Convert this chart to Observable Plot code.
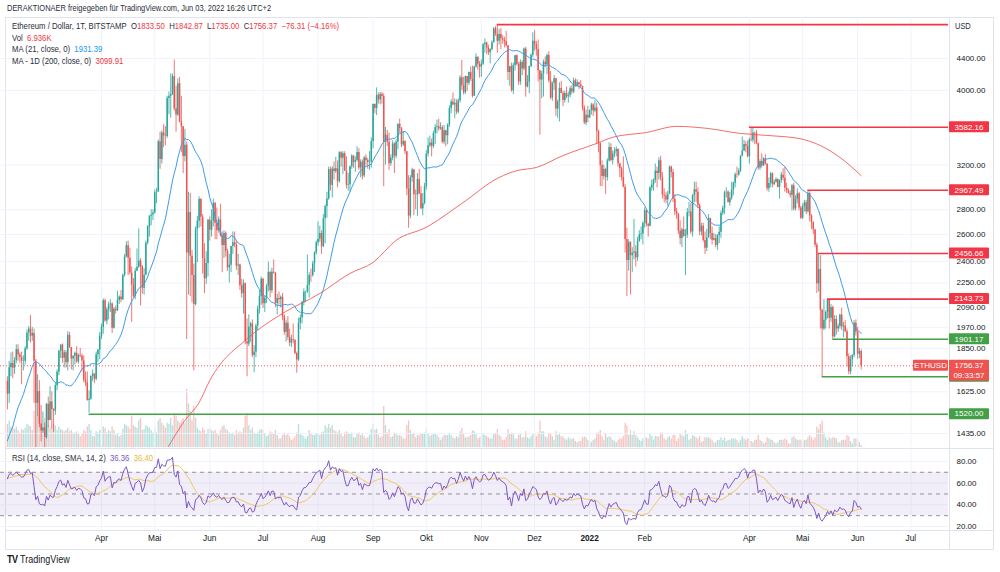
<!DOCTYPE html>
<html lang="de">
<head>
<meta charset="utf-8">
<script src="https://cdn.jsdelivr.net/npm/d3@7"></script>
<script src="https://cdn.jsdelivr.net/npm/@observablehq/plot@0.6"></script>
<style>
html,body{margin:0;padding:0;background:#fff;}
#wrap{position:relative;width:1000px;height:572px;overflow:hidden;font-family:"Liberation Sans",Arial,sans-serif;color:#131722;}
.txt{position:absolute;white-space:nowrap;font-size:8.3px;line-height:10px;color:#2a2e39;transform:scaleX(0.9);transform-origin:0 50%;}
.r{color:#f23645}.b{color:#2196f3}.p{color:#7e57c2}.y{color:#e8b93a}
.ln{position:absolute;background:#e0e3eb;}
.layer{position:absolute;left:0;}
.layer svg{overflow:visible;}
</style>
</head>
<body>
<div id="wrap">
  <div class="ln" style="left:5px;top:17px;width:988px;height:1px"></div>
  <div class="ln" style="left:5px;top:17px;width:1px;height:532px"></div>
  <div class="ln" style="left:993px;top:17px;width:1px;height:532px"></div>
  <div class="ln" style="left:5px;top:549px;width:989px;height:1px"></div>
  <div class="ln" style="left:949px;top:17px;width:1px;height:532px"></div>
  <div class="ln" style="left:5px;top:448px;width:988px;height:1px"></div>
  <div class="ln" style="left:5px;top:530px;width:988px;height:1px"></div>

  <div id="vol" class="layer" style="top:17px"></div>
  <div id="main" class="layer" style="top:17px"></div>
  <div id="rsi" class="layer" style="top:449px"></div>

  <div class="txt" style="left:7px;top:3px">DERAKTIONAER freigegeben für TradingView.com, Jun 03, 2022 16:26 UTC+2</div>
  <div class="txt" style="left:12px;top:21px;font-size:8.6px">Ethereum / Dollar, 1T, BITSTAMP&nbsp;&nbsp;O<span class="r">1833.50</span>&nbsp;&nbsp;H<span class="r">1842.87</span>&nbsp;&nbsp;L<span class="r">1735.00</span>&nbsp;&nbsp;C<span class="r">1756.37</span>&nbsp;&nbsp;<span class="r">−76.31 (−4.16%)</span></div>
  <div class="txt" style="left:12px;top:33px;font-size:8.6px">Vol&nbsp;&nbsp;<span class="r">6.936K</span></div>
  <div class="txt" style="left:12px;top:44px;font-size:8.6px">MA (21, close, 0)&nbsp;&nbsp;<span class="b">1931.39</span></div>
  <div class="txt" style="left:12px;top:56px;font-size:8.6px">MA - 1D (200, close, 0)&nbsp;&nbsp;<span class="r">3099.91</span></div>
  <div class="txt" style="left:955px;top:21px;font-size:8.3px">USD</div>
  <div class="txt" style="left:12px;top:453px;font-size:8.6px">RSI (14, close, SMA, 14, 2)&nbsp;&nbsp;<span class="p">36.36</span>&nbsp;&nbsp;<span class="y">36.40</span></div>
  <div class="txt" style="left:7px;top:554px;font-size:10px;line-height:12px;color:#131722"><b style="font-weight:900;letter-spacing:-0.5px">TV</b>&nbsp;TradingView</div>
</div>
<script>
// ---------- DATA (daily candles, Bitstamp ETH/USD) ----------
const firstDay = Date.UTC(2021, 1, 7);            // first visible candle: 7 Feb 2021
const viewStart = new Date(Date.UTC(2021, 1, 3, 2, 24));
const viewEnd   = new Date(Date.UTC(2022, 6, 22, 4, 19));
const DAY = 864e5;

// closes 1 Jan - 6 Feb 2021 (only used to seed MA21 / RSI)
const warmupCloses = [730,775,979,1042,1100,1208,1225,1224,1281,1262,1090,1043,1130,1218,1171,1233,1230,1257,1377,1383,1121,1236,1231,1392,1324,1357,1253,1332,1382,1377,1314,1370,1514,1660,1595,1718,1677];

const close = [
 1614,1746,1768,1744,1784,1843,1814,1800,1780,1781,1848,1938,1960,1919,1935,1781,1570,1626,1475,1446,1459,1417,
 1565,1492,1576,1541,1534,1655,1724,1835,1869,1796,1826,1772,1924,1855,1792,1807,1823,1777,1812,1807,1782,1682,1670,1584,1589,1701,1714,1687,1816,1840,1919,
 1970,2134,2008,2076,2107,2113,1965,2080,2071,2135,2158,2139,2300,2432,2515,2423,2317,2236,2162,2330,2358,2403,2363,2214,2303,2534,2661,2747,2756,2773,
 2945,2952,3431,3253,3522,3490,3485,3903,3929,3952,4168,3785,3716,4080,3640,3588,3283,3395,2460,2776,2437,2301,2109,2643,2706,2888,2737,2419,2279,2385,2714,
 2633,2706,2855,2689,2630,2716,2590,2517,2609,2472,2354,2372,2509,2537,2520,2366,2373,2231,2179,2245,1888,1875,1971,1990,1812,1830,1979,2081,2161,2275,
 2114,2150,2227,2322,2198,2323,2317,2116,2147,2139,2155,2035,1941,1995,1912,1880,1899,1895,1822,1787,1995,2027,2124,2188,2191,2234,2300,2299,2382,2462,2537,
 2563,2608,2507,2725,2828,2891,3157,3012,3163,3140,3164,3046,3320,3266,3309,3143,3012,3017,3183,3287,3226,3243,3322,3173,3228,3096,3268,3244,3225,3229,3434,
 3834,3790,3941,3887,3952,3928,3427,3498,3427,3212,3266,3408,3286,3429,3615,3570,3398,3433,3330,2978,2747,3078,3154,2929,2926,3064,2935,2808,2853,3001,
 3307,3391,3419,3382,3518,3581,3588,3563,3577,3425,3545,3493,3606,3787,3864,3830,3848,3748,3877,4155,4056,3972,4168,4087,4218,4132,3930,4288,4415,4325,4288,
 4324,4585,4607,4537,4476,4518,4611,4808,4732,4632,4725,4667,4648,4625,4570,4218,4294,3995,4310,4437,4322,4102,4348,4265,4525,4041,4096,4296,4444,4633,
 4589,4519,4243,4125,4200,4351,4318,4438,4113,3909,4086,4142,3783,3863,4022,3963,3881,3963,3924,3940,4018,3980,4116,4047,4093,4069,4044,3797,3628,3713,3683,
 3769,3829,3762,3794,3538,3411,3195,3092,3157,3083,3239,3372,3244,3308,3330,3351,3212,3164,3083,2995,2561,2406,2538,2441,2458,2467,2425,2549,2598,2605,2688,
 2792,2680,2666,2989,3014,3058,3142,3121,3242,3078,2927,2917,2883,2933,3180,3130,2890,2782,2762,2626,2570,2637,2586,2597,2775,2781,2620,2920,
 2972,2950,2834,2620,2665,2555,2495,2576,2728,2608,2556,2570,2517,2591,2617,2770,2813,2945,2950,2860,2897,2970,3031,3108,3106,3144,3285,3337,3403,3384,3281,
 3450,3445,3522,3520,3411,3171,3233,3190,3261,3210,2982,3029,3118,3018,3040,3064,2993,3055,3105,3076,2985,2964,2937,2923,3008,2807,2889,2936,2815,2730,
 2826,2858,2784,2939,2749,2695,2636,2518,2244,2342,2074,1961,2013,2060,2141,2024,2091,1915,2018,1960,1975,2043,1973,1978,1945,1804,1725,1790,1812,1995,1942,
 1818,1832.68,1756.37
];
const high = [
 1700,1780,1825,1830,1800,1870,1870,1825,1830,1810,1860,1955,1975,2040,1970,1960,1790,1710,1680,1560,1530,1480,
 1570,1600,1650,1625,1545,1670,1735,1840,1870,1875,1840,1840,1945,1940,1855,1810,1830,1860,1820,1850,1820,1810,1725,1725,1630,1705,1735,1715,1830,1845,1940,
 1990,2145,2145,2090,2125,2140,2120,2090,2100,2195,2165,2200,2310,2450,2545,2550,2495,2360,2280,2350,2490,2645,2420,2370,2350,2550,2670,2750,2800,2800,
 2970,2985,3450,3530,3545,3610,3590,3930,3980,4200,4200,4380,4050,4140,4160,3930,3590,3560,3430,2950,2940,2480,2380,2660,2745,2910,2895,2760,2530,2470,2720,
 2740,2800,2890,2860,2815,2740,2845,2620,2630,2620,2490,2450,2510,2620,2620,2550,2450,2380,2275,2270,2250,2020,2045,2000,2015,1865,1990,2100,2200,2290,
 2280,2160,2240,2395,2330,2350,2410,2320,2175,2190,2165,2180,2045,2010,2035,1960,1925,1990,1900,1830,2025,2045,2130,2210,2195,2445,2320,2345,2400,2470,2550,
 2700,2665,2630,2760,2840,2950,3180,3180,3185,3230,3275,3240,3330,3330,3330,3330,3280,3120,3190,3300,3290,3280,3380,3360,3250,3250,3285,3300,3265,3330,3470,
 3840,3840,4030,3970,3975,3975,3960,3580,3550,3520,3300,3440,3420,3450,3620,3670,3580,3540,3440,3330,3100,3100,3170,3160,2970,3120,3160,3000,2940,3030,
 3340,3470,3490,3460,3540,3610,3660,3670,3630,3600,3600,3550,3620,3820,3890,3970,3900,3890,3900,4180,4375,4160,4175,4170,4225,4290,4300,4300,4460,4420,4360,
 4380,4600,4665,4620,4580,4530,4640,4825,4840,4868,4800,4810,4710,4690,4770,4570,4300,4340,4340,4440,4450,4350,4380,4370,4540,4550,4180,4300,4460,4750,
 4780,4630,4650,4245,4235,4380,4420,4460,4490,4230,4100,4180,4150,3885,4090,4110,3990,3990,4040,3980,4045,4060,4150,4140,4130,4100,4120,4050,3820,3770,3815,
 3770,3850,3845,3880,3850,3550,3420,3240,3200,3170,3260,3420,3410,3340,3370,3380,3360,3215,3180,3280,3020,2650,2560,2545,2500,2720,2515,2580,2630,2660,2700,
 2815,2800,2690,3000,3060,3070,3210,3180,3270,3285,3130,2980,2950,2960,3190,3190,3160,2930,2810,2770,2710,2650,2740,2640,2810,2860,2850,2930,
 3040,3040,2990,2850,2690,2690,2620,2640,2760,2730,2660,2610,2600,2600,2660,2790,2830,2960,2990,2965,2950,3040,3040,3125,3180,3165,3290,3480,3445,3430,3440,
 3470,3582.16,3575,3530,3550,3415,3255,3310,3270,3300,3210,3080,3130,3125,3060,3080,3070,3060,3130,3165,3180,3030,2980,2960,3020,3030,2920,2980,2950,2830,
 2850,2880,2880,2967.49,2955,2760,2700,2640,2535,2456.66,2440,2080,2140,2070,2143.73,2141,2110,2100,2040,2040,1990,2050,2085,2000,2010,1960,1820,1810,1815,2010,2015,
 1970,1850,1842.87
];
const low = [
 1540,1570,1700,1690,1712,1767,1780,1770,1660,1730,1760,1840,1890,1880,1890,1570,1370,1510,1460,1400,1435,1295,
 1410,1460,1490,1455,1440,1515,1630,1705,1795,1770,1745,1745,1730,1850,1735,1730,1760,1770,1765,1800,1725,1670,1650,1580,1525,1585,1675,1665,1680,1775,1790,
 1900,1930,2000,1985,2015,2060,1935,1960,2050,2065,2110,2120,2135,2290,2425,2300,2305,2000,2150,2140,2330,2350,2100,2175,2170,2300,2520,2580,2670,2710,
 2765,2850,2950,3160,3210,3370,3390,3465,3720,3680,3940,3760,3530,3700,3630,3320,3120,3230,1900,2170,2160,2120,1730,2100,2390,2650,2660,2310,2180,2240,2290,
 2550,2580,2660,2560,2560,2610,2580,2320,2420,2430,2330,2250,2320,2450,2500,2335,2300,2200,2150,2050,1870,1700,1860,1885,1800,1720,1800,1950,2050,2105,
 2085,2060,2115,2190,2150,2180,2310,2090,2045,2105,2090,2010,1925,1885,1895,1860,1855,1875,1815,1718,1780,1955,1990,2100,2120,2180,2150,2255,2290,2320,2445,
 2510,2540,2450,2500,2530,2730,2880,2960,2900,3060,3120,2990,3030,3180,3110,3140,2980,2960,2950,3160,3170,3130,3230,3150,3080,3060,3080,3190,3160,3150,3170,
 3360,3730,3710,3840,3830,3840,3000,3200,3380,3150,3190,3240,3120,3260,3350,3520,3370,3380,3300,2920,2650,2725,3040,2750,2800,2745,2930,2800,2750,2840,
 2970,3280,3370,3280,3360,3400,3510,3540,3550,3410,3400,3380,3400,3580,3730,3820,3675,3720,3730,3850,4000,3945,3950,3990,4060,4110,3910,3930,4275,4250,4150,
 4160,4310,4470,4450,4440,4330,4500,4610,4700,4470,4580,4520,4590,4540,4550,4120,4050,3980,3950,4240,4300,4060,4060,4180,4240,3920,4030,3960,4280,4410,
 4500,4430,4100,3500,3900,3920,4280,4190,4090,3890,3870,4000,3700,3680,3640,3960,3810,3850,3900,3850,3910,3950,3960,4040,4040,4010,4030,3760,3610,3600,3630,
 3680,3715,3700,3740,3400,3320,3000,3000,3060,2930,3050,3230,3230,3200,3270,3280,3180,3080,3050,2990,2460,2160,2330,2170,2320,2410,2360,2400,2540,2560,2520,
 2650,2660,2580,2660,2960,2960,3030,2990,3060,3050,2890,2860,2850,2830,2930,3080,2860,2750,2720,2600,2520,2500,2580,2300,2570,2740,2600,2580,
 2860,2860,2810,2590,2590,2540,2450,2470,2570,2560,2520,2550,2500,2480,2530,2570,2750,2760,2900,2860,2830,2880,2920,2990,3075,3095,3130,3280,3330,3320,3270,
 3210,3430,3420,3400,3400,3150,3150,3170,3190,3200,2960,2950,2990,2990,3010,3030,2990,2890,3030,3050,2950,2940,2935,2900,2790,2790,2790,2850,2790,2720,
 2720,2780,2760,2770,2700,2640,2600,2500,2180,2190,1960,1700,1950,1960,2020,1960,2000,1901.17,1910,1925,1940,1960,1950,1910,1940,1750,1710,1710,1750,1800,1920,
 1790,1795,1735
];
// volume in thousand ETH
const volume = [
 95,110,85,80,75,85,70,55,75,70,80,95,90,85,70,150,190,130,140,100,80,120,
 110,90,85,80,95,90,70,85,75,70,65,70,80,65,70,60,60,65,55,45,55,70,65,85,95,70,45,45,65,60,70,
 70,85,80,60,70,65,85,70,50,55,45,50,75,95,90,85,75,130,90,85,80,110,120,70,75,90,85,80,70,60,
 80,60,110,120,100,90,80,100,95,120,90,140,130,110,100,110,120,100,240,180,150,110,170,120,80,70,65,80,70,55,75,
 80,70,65,70,55,50,70,85,90,75,70,60,55,60,50,70,60,65,60,80,130,140,90,70,80,60,55,60,70,75,
 70,55,45,50,65,60,55,70,50,35,35,50,60,50,55,45,30,35,45,60,95,55,50,45,35,45,70,55,50,50,55,
 55,50,60,65,90,80,95,80,90,70,65,60,70,55,45,60,65,60,55,60,40,40,55,60,50,55,45,35,40,50,75,
 95,70,75,50,40,45,170,90,60,75,40,45,60,55,50,50,45,35,35,90,110,70,55,60,40,50,50,55,55,60,
 80,55,45,50,55,55,50,40,30,40,50,50,50,55,50,40,35,45,40,65,80,55,40,40,45,50,70,65,55,35,40,
 45,55,50,45,40,35,35,55,55,75,50,45,30,30,40,75,55,60,55,35,35,50,55,40,40,65,40,35,45,55,
 55,45,60,110,65,65,45,40,55,55,45,30,65,50,60,45,45,35,30,40,35,35,35,25,20,25,25,40,45,40,30,
 25,20,30,35,60,60,70,45,30,55,40,45,40,30,25,20,30,35,35,45,100,90,50,70,50,65,50,40,30,25,35,
 40,40,35,55,45,30,45,45,45,60,60,35,30,40,45,35,50,50,25,35,55,50,45,70,55,30,35,50,
 45,40,35,45,20,25,40,40,40,35,30,20,20,30,30,40,30,40,25,30,30,35,35,35,30,20,30,45,35,30,35,
 35,25,20,30,30,50,30,25,15,20,40,35,30,30,20,15,20,30,30,30,35,30,15,15,40,45,35,30,30,30,
 20,30,30,40,50,40,30,40,85,75,95,110,60,40,30,40,35,40,40,35,20,20,30,30,30,50,45,25,15,35,35,
 30,20,6.936
];

// 1D MA(200)
const ma200Dates = ["2021-05-08","2021-05-18","2021-05-26","2021-06-01","2021-06-23","2021-07-12","2021-08-02","2021-08-19","2021-09-01","2021-09-14","2021-10-01","2021-10-21","2021-11-11","2021-11-21","2021-12-02","2021-12-17","2022-01-05","2022-01-14","2022-02-02","2022-02-19","2022-03-08","2022-03-27","2022-04-11","2022-04-29","2022-05-11","2022-05-22","2022-06-03"];
const ma200Values = [1372,1492,1574,1681,1912,2054,2180,2315,2392,2556,2657,2853,3083,3147,3177,3292,3414,3477,3527,3592,3571,3517,3496,3464,3392,3274,3100];

// horizontal drawings (value, start date, colour kind)
const levelValues = [4868, 3582.16, 2967.49, 2456.66, 2143.73, 1901.17, 1700.00, 1520.00];
const levelStarts = ["2021-11-10","2022-04-01","2022-05-04","2022-05-10","2022-05-15","2022-05-18","2022-05-12","2021-03-25"];
const levelKinds  = ["res","res","res","res","res","sup","sup","sup"];
const levelTagged = [false,true,true,true,true,true,true,true];

const priceTicks = [4400,4000,3200,2800,2600,2400,2250,2090,1970,1850,1625,1435];
const rsiTicks = [80,60,40,20];
const rsiLevels = [70,50,30];
const rsiBand = [30,70];
const timeTickDates = ["2021-04-01","2021-05-01","2021-06-01","2021-07-01","2021-08-01","2021-09-01","2021-10-01","2021-11-01","2021-12-01","2022-01-01","2022-02-01","2022-04-01","2022-05-01","2022-06-01","2022-07-01"];
const timeTickLabels = ["Apr","Mai","Jun","Jul","Aug","Sep","Okt","Nov","Dez","2022","Feb","Apr","Mai","Jun","Jul"];

// ---------- derived tables ----------
const UP = "#26a69a", DOWN = "#ef5350", RED = "#f23645", GREEN = "#43a047", GRID = "#f0f3fa";
const FONT = "Liberation Sans, Arial, sans-serif";
const candles = close.map((c, i) => {
  const open = i === 0 ? warmupCloses[warmupCloses.length - 1] : close[i - 1];
  return {date: new Date(firstDay + i * DAY), open, high: high[i], low: low[i], close: c, vol: volume[i], up: c >= open};
});
const ups = candles.filter(d => d.up), downs = candles.filter(d => !d.up);
const all = warmupCloses.concat(close), off = warmupCloses.length;
const ma21 = candles.map((d, i) => ({date: d.date, v: d3.mean(all.slice(i + off - 20, i + off + 1))}));
const rsiAll = new Array(all.length).fill(null);
let ag = 0, al = 0;
for (let j = 1; j < all.length; j++) {
  const ch = all[j] - all[j - 1], g = Math.max(ch, 0), l = Math.max(-ch, 0);
  if (j <= 14) { ag += g; al += l; if (j === 14) { ag /= 14; al /= 14; rsiAll[j] = 100 - 100 / (1 + ag / al); } }
  else { ag = (ag * 13 + g) / 14; al = (al * 13 + l) / 14; rsiAll[j] = al === 0 ? 100 : 100 - 100 / (1 + ag / al); }
}
const rsiSma = rsiAll.map((r, j) => j >= 27 ? d3.mean(rsiAll.slice(j - 13, j + 1)) : null);
const rsiData = candles.map((d, i) => ({date: d.date, rsi: rsiAll[i + off], sma: rsiSma[i + off]}));
const ma200 = ma200Dates.map((d, i) => ({date: new Date(d), v: ma200Values[i]}));
const levels = levelValues.map((v, i) => ({v, start: new Date(levelStarts[i]), color: levelKinds[i] === "res" ? RED : GREEN, tagged: levelTagged[i]}));
const timeTicks = timeTickDates.map((d, i) => ({date: new Date(d), label: timeTickLabels[i]}));
const last = candles[candles.length - 1];

// ---------- volume layer ----------
const volPlot = Plot.plot({
  width: 1000, height: 430, marginTop: 372, marginBottom: 0, marginLeft: 0, marginRight: 52,
  x: {type: "utc", domain: [viewStart, viewEnd], axis: null},
  y: {domain: [0, 240], axis: null},
  style: {background: "transparent"},
  marks: [
    Plot.ruleX(ups, {x: "date", y1: 0, y2: "vol", stroke: UP, strokeOpacity: 0.35, strokeWidth: 1.3}),
    Plot.ruleX(downs, {x: "date", y1: 0, y2: "vol", stroke: DOWN, strokeOpacity: 0.35, strokeWidth: 1.3})
  ]
});
document.getElementById("vol").appendChild(volPlot);

// ---------- price layer ----------
const main = Plot.plot({
  width: 1000, height: 430, marginTop: 0, marginBottom: 0, marginLeft: 0, marginRight: 52,
  x: {type: "utc", domain: [viewStart, viewEnd], axis: null},
  y: {type: "log", domain: [1376, 4973], axis: null},
  style: {background: "transparent", fontFamily: FONT},
  marks: [
    Plot.ruleY(priceTicks, {stroke: GRID}),
    Plot.ruleX(timeTicks, {x: "date", stroke: GRID}),
    Plot.ruleX(ups, {x: "date", y1: "low", y2: "high", stroke: UP, strokeWidth: 0.8, clip: true}),
    Plot.ruleX(downs, {x: "date", y1: "low", y2: "high", stroke: DOWN, strokeWidth: 0.8, clip: true}),
    Plot.ruleX(ups, {x: "date", y1: "open", y2: "close", stroke: UP, strokeWidth: 1.5, clip: true}),
    Plot.ruleX(downs, {x: "date", y1: "open", y2: "close", stroke: DOWN, strokeWidth: 1.5, clip: true}),
    Plot.line(ma21, {x: "date", y: "v", stroke: "#3d9be9", strokeWidth: 1, clip: true}),
    Plot.line(ma200, {x: "date", y: "v", stroke: "#ef5350", strokeWidth: 1, strokeOpacity: 0.85, curve: "monotone-x", clip: true}),
    Plot.ruleY([last.close], {stroke: DOWN, strokeWidth: 1, strokeDasharray: "1,2"}),
    Plot.ruleY(levels, {y: "v", x1: "start", x2: () => viewEnd, stroke: "color", strokeWidth: 1.6}),
    Plot.text(priceTicks, {y: d => d, text: d => d.toFixed(2), frameAnchor: "right", dx: 8, textAnchor: "start", fill: "#131722", fontSize: 8})
  ]
});
document.getElementById("main").appendChild(main);

// price tags on the right axis, placed with the plot's own y scale
const ys = main.scale("y");
const svgSel = d3.select(main);
function tag(v, x, w, h, bg, lines, topOffset) {
  const yc = ys.apply(v);
  const g = svgSel.append("g").attr("font-family", FONT).attr("font-size", 8);
  g.append("rect").attr("x", x).attr("y", yc - (topOffset ?? h / 2)).attr("width", w).attr("height", h).attr("fill", bg).attr("rx", 1);
  lines.forEach((t, k) => g.append("text").attr("x", x + w / 2).attr("y", yc + k * 10).attr("dy", "0.34em")
    .attr("text-anchor", "middle").attr("fill", "#fff").text(t));
}
levels.filter(d => d.tagged).forEach(d => tag(d.v, 949, 40, 11, d.color, [d.v.toFixed(2)]));
tag(last.close, 913, 35, 11, DOWN, ["ETHUSD"]);
tag(last.close, 949, 40, 21, DOWN, [last.close.toFixed(2), "09:33:57"], 5.5);

// ---------- RSI layer + time axis ----------
const rsiPlot = Plot.plot({
  width: 1000, height: 100, marginTop: 0, marginBottom: 19, marginLeft: 0, marginRight: 52,
  x: {type: "utc", domain: [viewStart, viewEnd], axis: null},
  y: {domain: [16.3, 91], axis: null},
  style: {background: "transparent", fontFamily: FONT},
  marks: [
    Plot.ruleY(rsiTicks, {stroke: GRID}),
    Plot.ruleX(timeTicks, {x: "date", stroke: GRID}),
    Plot.rect([rsiBand], {x1: () => viewStart, x2: () => viewEnd, y1: d => d[0], y2: d => d[1], fill: "#7e57c2", fillOpacity: 0.1}),
    Plot.ruleY(rsiLevels, {stroke: "#787b86", strokeOpacity: 0.8, strokeDasharray: "4,4"}),
    Plot.line(rsiData, {x: "date", y: "sma", stroke: "#f0c75e", strokeWidth: 1}),
    Plot.line(rsiData, {x: "date", y: "rsi", stroke: "#7e57c2", strokeWidth: 1}),
    Plot.text(rsiTicks, {y: d => d, text: d => d.toFixed(2), frameAnchor: "right", dx: 8, textAnchor: "start", fill: "#131722", fontSize: 8}),
    Plot.text(timeTicks.filter(d => d.label !== "2022"), {x: "date", text: "label", frameAnchor: "bottom", dy: 10, fill: "#131722", fontSize: 8.3}),
    Plot.text(timeTicks.filter(d => d.label === "2022"), {x: "date", text: "label", frameAnchor: "bottom", dy: 10, fill: "#131722", fontSize: 8.3, fontWeight: "bold"})
  ]
});
document.getElementById("rsi").appendChild(rsiPlot);
</script>
</body>
</html>
